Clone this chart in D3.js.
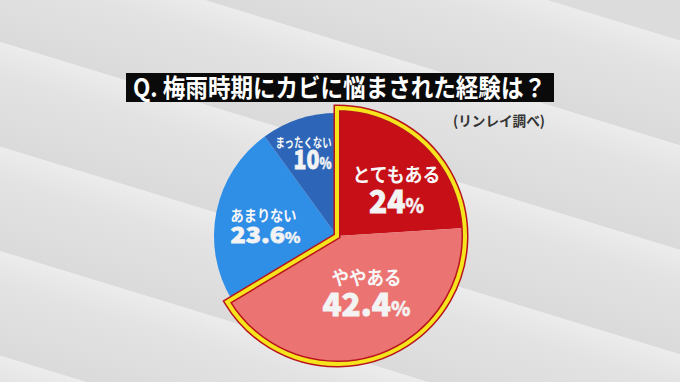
<!DOCTYPE html>
<html>
<head>
<meta charset="utf-8">
<script src="https://cdn.jsdelivr.net/npm/d3@7"></script>
<style>
  html, body { margin: 0; padding: 0; background: #dedede; }
  svg { display: block; }
  text { font-family: "Noto Sans CJK JP", "Noto Sans", sans-serif; }
</style>
</head>
<body>
<div id="chart"></div>
<script>
const title = 'Q. 梅雨時期にカビに悩まされた経験は？';
const source = '(リンレイ調べ)';
const categories = ['とてもある', 'ややある', 'あまりない', 'まったくない'];
const values = [24, 42.4, 23.6, 10];
const valueLabels = ['24', '42.4', '23.6', '10'];
const colors = ['#c70f17', '#eb7372', '#2f8ee6', '#2d66b8'];
const highlighted = [true, true, false, false];

const width = 680, height = 382;
const cx = 337, cy = 236;
const rBig = 128, rSmall = 123;

const svg = d3.select('#chart').append('svg')
    .attr('width', width)
    .attr('height', height);

// background with soft diagonal bands
const defs = svg.append('defs');
const grad = defs.append('linearGradient')
    .attr('id', 'band')
    .attr('x1', 0).attr('y1', 0).attr('x2', 0).attr('y2', 1);
grad.append('stop').attr('offset', 0).attr('stop-color', '#ececec');
grad.append('stop').attr('offset', 0.3).attr('stop-color', '#e3e3e3');
grad.append('stop').attr('offset', 1).attr('stop-color', '#dadada');

svg.append('rect').attr('width', width).attr('height', height).attr('fill', '#dcdcdc');

const bandStarts = [-160, -60, 40, 140, 240, 340];
svg.append('g')
    .attr('transform', 'rotate(17)')
    .selectAll('rect')
    .data(bandStarts)
    .enter().append('rect')
    .attr('x', -200)
    .attr('y', d => d)
    .attr('width', 1100)
    .attr('height', 100)
    .attr('fill', 'url(#band)');

// title
svg.append('rect')
    .attr('x', 126).attr('y', 73)
    .attr('width', 428).attr('height', 29)
    .attr('fill', '#0a0a0a');
svg.append('text')
    .attr('x', 133).attr('y', 97)
    .attr('fill', '#ffffff')
    .attr('font-size', 25)
    .attr('font-weight', 700)
    .attr('textLength', 413)
    .attr('lengthAdjust', 'spacingAndGlyphs')
    .text(title);
svg.append('text')
    .attr('x', 499).attr('y', 126)
    .attr('text-anchor', 'middle')
    .attr('fill', '#333')
    .attr('font-size', 14)
    .attr('font-weight', 700)
    .attr('textLength', 92)
    .attr('lengthAdjust', 'spacingAndGlyphs')
    .text(source);

// pie
const pie = d3.pie().sort(null).value(d => d);
const arcs = pie(values);

const arcBig = d3.arc().innerRadius(0).outerRadius(rBig);
const arcSmall = d3.arc().innerRadius(0).outerRadius(rSmall);

const g = svg.append('g').attr('transform', `translate(${cx},${cy})`);

g.selectAll('path.slice')
    .data(arcs)
    .enter().append('path')
    .attr('class', 'slice')
    .attr('d', (d, i) => highlighted[i] ? arcBig(d) : arcSmall(d))
    .attr('fill', (d, i) => colors[i]);

// outline around the highlighted slices
const hl = arcs.filter((d, i) => highlighted[i]);
const union = arcBig({
    startAngle: d3.min(hl, d => d.startAngle),
    endAngle: d3.max(hl, d => d.endAngle)
});
g.append('path').attr('d', union)
    .attr('fill', 'none')
    .attr('stroke', '#b8141c')
    .attr('stroke-width', 7)
    .attr('stroke-linejoin', 'miter');
g.append('path').attr('d', union)
    .attr('fill', 'none')
    .attr('stroke', '#f6e41c')
    .attr('stroke-width', 4)
    .attr('stroke-linejoin', 'miter');

// labels
const labelR = [78, 62, 76, 92];
const labelStyle = [
    { anchor: 'middle', dx: 6, y1: 3, y2: 34, f1: 19, f2: 32, fp: 20, w1: 88, w2: 55 },
    { anchor: 'middle', dx: 11, y1: -10, y2: 21, f1: 19, f2: 32, fp: 20, w1: 70, w2: 88 },
    { anchor: 'start', dx: -32, y1: 0, y2: 22, f1: 15, f2: 22, fp: 14, w1: 66, w2: 70 },
    { anchor: 'end', dx: 23, y1: -2, y2: 20.5, f1: 13, f2: 26, fp: 15, w1: 56, w2: 38 }
];

const labels = g.selectAll('g.label')
    .data(arcs)
    .enter().append('g')
    .attr('class', 'label')
    .attr('transform', (d, i) => {
        const [x, y] = d3.arc().innerRadius(labelR[i]).outerRadius(labelR[i]).centroid(d);
        return `translate(${x + labelStyle[i].dx},${y})`;
    });

labels.append('text')
    .attr('text-anchor', (d, i) => labelStyle[i].anchor)
    .attr('y', (d, i) => labelStyle[i].y1)
    .attr('fill', '#f7f7f7')
    .attr('font-size', (d, i) => labelStyle[i].f1)
    .attr('font-weight', 700)
    .attr('textLength', (d, i) => labelStyle[i].w1)
    .attr('lengthAdjust', 'spacingAndGlyphs')
    .text((d, i) => categories[i]);

const vals = labels.append('text')
    .attr('text-anchor', (d, i) => labelStyle[i].anchor)
    .attr('y', (d, i) => labelStyle[i].y2)
    .attr('fill', '#f3f3f3')
    .attr('stroke', '#f3f3f3')
    .attr('stroke-width', 0.8)
    .attr('font-weight', 900)
    .attr('textLength', (d, i) => labelStyle[i].w2)
    .attr('lengthAdjust', 'spacingAndGlyphs');
vals.append('tspan')
    .attr('font-size', (d, i) => labelStyle[i].f2)
    .text((d, i) => valueLabels[i]);
vals.append('tspan')
    .attr('font-size', (d, i) => labelStyle[i].fp)
    .attr('stroke-width', 0.4)
    .text('%');
</script>
</body>
</html>
